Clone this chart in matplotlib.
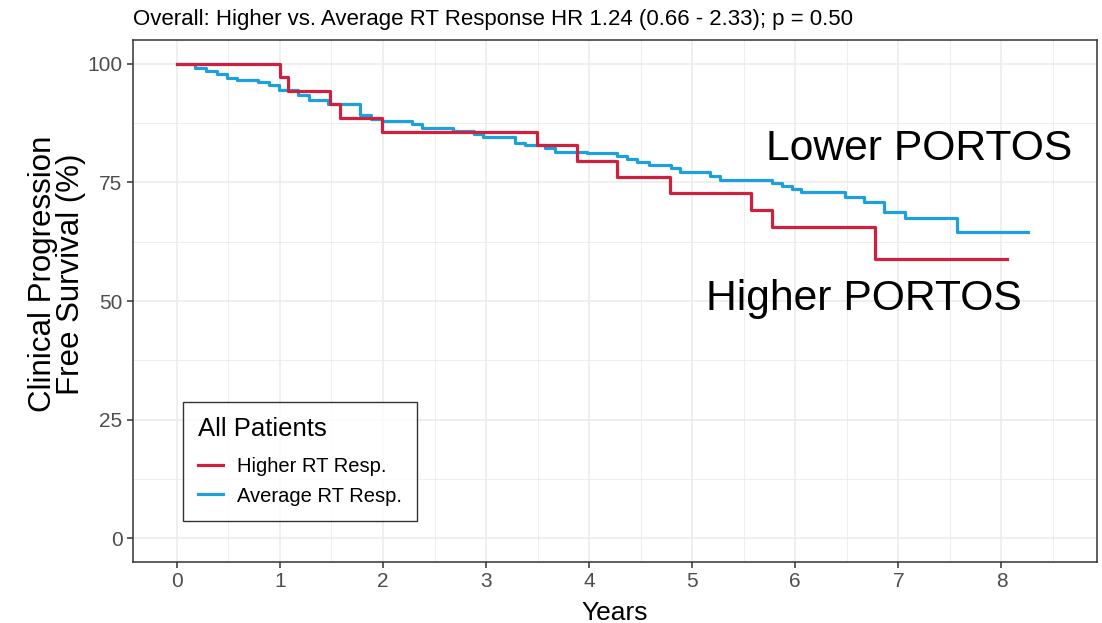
import matplotlib
matplotlib.use('Agg')
import matplotlib.pyplot as plt
import numpy as np

plt.rcParams['font.family'] = ['Liberation Sans', 'DejaVu Sans']

# Kaplan-Meier step points (years, % free of clinical progression)
anos_alto = [0, 1.0, 1.08, 1.49, 1.585, 1.99, 3.49, 3.88, 4.27, 4.78,
             5.57, 5.77, 6.77, 8.05]
sobrev_alto = [100, 97.3, 94.3, 91.5, 88.5, 85.7, 82.9, 79.6, 76.2, 72.8,
               69.1, 65.5, 58.9, 58.9]

anos_medio = [0, 0.18, 0.285, 0.39, 0.485, 0.58, 0.79, 0.89, 0.99, 1.18,
              1.28, 1.47, 1.78, 1.88, 1.99, 2.28, 2.38, 2.68, 2.88, 2.975,
              3.28, 3.38, 3.57, 3.67, 3.98, 4.27, 4.37, 4.46, 4.58, 4.79,
              4.88, 5.17, 5.27, 5.77, 5.87, 5.97, 6.06, 6.48, 6.67, 6.86,
              7.065, 7.57, 8.26]
sobrev_medio = [100, 99.1, 98.5, 97.9, 97.0, 96.6, 96.1, 95.5, 94.5, 93.4,
                92.4, 91.6, 89.1, 88.4, 87.9, 87.3, 86.4, 85.8, 85.2, 84.5,
                83.4, 82.9, 82.2, 81.5, 81.1, 80.6, 79.9, 79.2, 78.7, 78.0,
                77.1, 76.3, 75.6, 74.9, 74.2, 73.6, 72.9, 71.9, 70.8, 68.7,
                67.5, 64.6, 64.6]

rotulos = ['Higher RT Resp.', 'Average RT Resp.']
cores = ['#CE2140', '#1DA0DB']
titulo = 'Overall: Higher vs. Average RT Response HR 1.24 (0.66 - 2.33); p = 0.50'

fig = plt.figure(figsize=(11.02, 6.23), dpi=100)
ax = fig.add_axes([0.1207, 0.0979, 0.8746, 0.8379])

# grade estilo theme_bw
ax.set_xticks(np.arange(0, 9, 1))
ax.set_xticks(np.arange(-0.5, 9.0, 0.5), minor=True)
ax.set_yticks([0, 25, 50, 75, 100])
ax.set_yticks(np.arange(-12.5, 110, 12.5), minor=True)
ax.grid(which='major', color='#EBEBEB', linewidth=1.1)
ax.grid(which='minor', color='#EBEBEB', linewidth=0.6)
ax.set_axisbelow(True)

ax.step(anos_alto, sobrev_alto, where='post', color=cores[0], lw=2.3,
        label=rotulos[0], zorder=3)
ax.step(anos_medio, sobrev_medio, where='post', color=cores[1], lw=2.3,
        label=rotulos[1], zorder=2)

ax.set_xlim(-0.425, 8.925)
ax.set_ylim(-5, 105)

for s in ax.spines.values():
    s.set_color('#333333')
    s.set_linewidth(1.1)
ax.tick_params(which='major', length=4, width=1.1, color='#333333',
               labelcolor='#4D4D4D', labelsize=15)
ax.tick_params(which='minor', length=0)

ax.set_xlabel('Years', fontsize=19, labelpad=7)
ax.set_ylabel('Clinical Progression\nFree Survival (%)', fontsize=22.5,
              linespacing=0.92)
ax.yaxis.set_label_coords(-0.049, 0.552)
ax.set_title(titulo, loc='left', fontsize=16, pad=11)

ax.text(5.72, 79.7, 'Lower PORTOS', fontsize=30.7, ha='left', va='baseline')
ax.text(5.13, 48.1, 'Higher PORTOS', fontsize=30.7, ha='left', va='baseline')

leg = ax.legend(title='All Patients', loc='lower left',
                bbox_to_anchor=(0.041, 0.060), fontsize=14.5, title_fontsize=18.5,
                frameon=True, fancybox=False, handlelength=1.25,
                handletextpad=0.7, borderpad=0.75, labelspacing=0.5,
                alignment='left')
leg._legend_box.sep = 11.5  # mais espaço entre título e entradas
leg.get_frame().set_edgecolor('black')
leg.get_frame().set_linewidth(1.0)

fig.savefig('out.png', dpi=100)
